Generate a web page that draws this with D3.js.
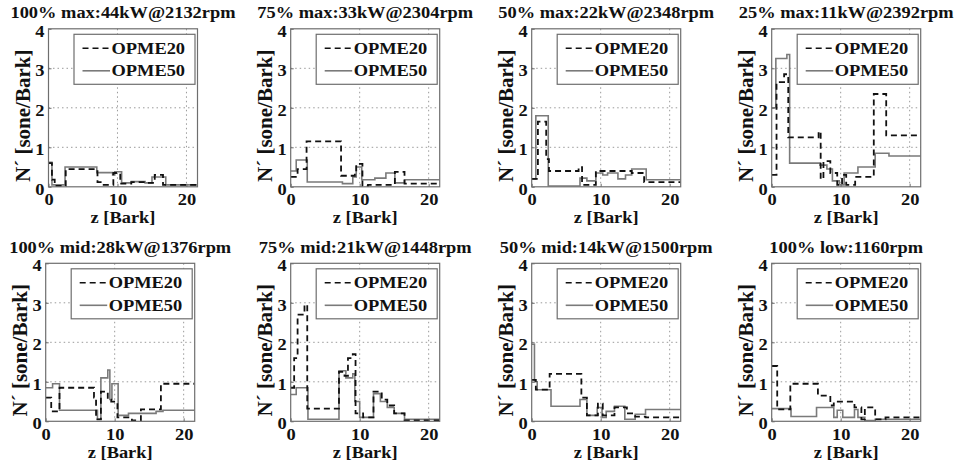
<!DOCTYPE html>
<html><head><meta charset="utf-8">
<script src="https://cdn.jsdelivr.net/npm/d3@7"></script>
<style>
html,body{margin:0;padding:0;background:#fff;}
text{font-family:"Liberation Serif","Times New Roman",serif;font-weight:bold;fill:#111;}
</style></head>
<body><svg id="c" width="962" height="468"></svg>
<script>
const titles = ["100% max:44kW@2132rpm","75% max:33kW@2304rpm","50% max:22kW@2348rpm","25% max:11kW@2392rpm",
                "100% mid:28kW@1376rpm","75% mid:21kW@1448rpm","50% mid:14kW@1500rpm","100% low:1160rpm"];
const seriesNames = ["OPME20","OPME50"];
const xTicks = [0,10,20];
const yTicks = [0,1,2,3,4];
const xMax = 21.6, yMax = 4;

// step data: [z (Bark), N' (sone/Bark)] per panel
const opme20 = [
 [[0,0.6],[0.5,0.18],[0.9,0.02],[2.5,0.45],[7.1,0.12],[8,0.05],[9.4,0.35],[10.4,0.08],[12,0.12],[14,0.1],[15.4,0.3],[16.6,0.05],[21.6,0.05]],
 [[0,0.25],[1.0,0.45],[2.3,1.15],[7.3,0.28],[9.3,0.35],[9.5,0.58],[10.4,0.02],[11.2,0.05],[15.1,0.38],[16.5,0.08],[21.6,0.08]],
 [[0,0.2],[0.9,1.65],[2.1,0.7],[2.5,0.4],[6.8,0.5],[7.3,0.05],[9.3,0.4],[14.5,0.35],[16.3,0.12],[21.6,0.12]],
 [[0,0.3],[0.7,2.65],[1.8,2.85],[2.4,1.25],[6.8,1.4],[7.1,0.2],[7.5,0.65],[8.5,0.35],[9.5,0.05],[10.2,0.3],[10.8,0.05],[12.1,0.25],[14.8,2.35],[16.6,1.3],[21.6,1.3]],
 [[0,0.6],[0.8,0.25],[2.0,0.85],[7.0,0.6],[7.3,0.05],[8.0,0.75],[9.0,0.55],[9.5,0.5],[10.4,0.1],[12.5,0.02],[13.8,0.3],[16.7,0.95],[21.6,0.95]],
 [[0,0.85],[0.5,1.6],[1.0,2.7],[2.0,2.95],[2.4,0.32],[7.0,1.25],[7.8,1.15],[8.3,1.6],[9.0,1.7],[9.4,0.2],[10.5,0.1],[12.0,0.75],[13.2,0.55],[14.0,0.4],[15.0,0.2],[16.5,0.02],[21.6,0.02]],
 [[0,1.05],[0.6,0.8],[2.6,1.2],[7.2,0.6],[8.0,0.15],[9.6,0.45],[10.3,0.15],[12.0,0.35],[13.8,0.2],[15.0,0.12],[16.5,0.1],[21.6,0.1]],
 [[0,1.4],[0.8,0.3],[2.7,0.95],[6.7,0.65],[8.5,0.4],[9.0,0.5],[12.0,0.35],[13.0,0.05],[13.5,0.35],[15.0,0.05],[16.5,0.1],[21.6,0.1]]
];
const opme50 = [
 [[0,0.62],[0.5,0.05],[2.4,0.5],[7.0,0.36],[9.3,0.3],[9.6,0.38],[10.6,0.1],[12,0.13],[14,0.1],[15,0.25],[17,0.05],[21.6,0.05]],
 [[0,0.4],[0.8,0.68],[2.4,0.12],[7.5,0.08],[9.0,0.25],[9.5,0.5],[10.3,0.18],[12.2,0.22],[13.8,0.35],[15.1,0.1],[16.5,0.18],[21.6,0.18]],
 [[0,0.2],[0.6,1.8],[2.4,0.02],[7.0,0.22],[8.0,0.15],[9.3,0.35],[10.3,0.3],[11.0,0.35],[12.5,0.2],[13.6,0.3],[14.5,0.45],[16.6,0.18],[21.6,0.18]],
 [[0,2.0],[0.6,3.25],[2.2,3.35],[2.6,0.6],[7.0,0.55],[8.0,0.45],[8.8,0.15],[9.8,0.05],[10.5,0.35],[12.5,0.5],[15.0,0.85],[17.0,0.78],[21.6,0.78]],
 [[0,0.85],[1.0,0.95],[2.0,0.28],[7.5,0.05],[8.0,1.1],[9.0,1.3],[9.3,0.55],[9.6,0.95],[10.5,0.15],[12.0,0.2],[16.0,0.25],[17.0,0.28],[21.6,0.28]],
 [[0,0.68],[0.8,0.85],[2.5,0.05],[7.0,1.28],[8.0,1.1],[9.0,1.2],[9.3,0.5],[10.0,0.1],[12.0,0.7],[13.0,0.5],[14.0,0.35],[15.0,0.2],[16.5,0.05],[21.6,0.05]],
 [[0,1.95],[0.4,1.0],[0.8,0.8],[2.8,0.38],[7.0,0.55],[8.0,0.15],[9.5,0.35],[10.2,0.1],[10.8,0.25],[12.0,0.38],[13.5,0.05],[15.0,0.18],[16.5,0.3],[21.6,0.3]],
 [[0,0.32],[2.8,0.12],[6.5,0.35],[9.0,0.1],[9.5,0.28],[10.3,0.1],[12.0,0.3],[12.5,0.1],[13.5,0.02],[15.0,0.05],[21.6,0.05]]
];
const seriesColors = ["#111","#7a7a7a"];

const svg = d3.select("#c");
const lefts = [[48.5,290.7,531.7,771.7],[45.7,290.7,531.7,771.7]];
const tops = [28.8,263.3];
const pw = 149, ph = 158;
const sx = 1.15;

titles.forEach((t,i)=>{
  const r = Math.floor(i/4), c = i%4;
  const L = lefts[r][c], T = tops[r];
  const g = svg.append("g").attr("transform",`translate(${L},${T})`);
  const x = d3.scaleLinear().domain([0,xMax]).range([0,pw]);
  const y = d3.scaleLinear().domain([0,yMax]).range([ph,0]);
  const cid = "clip"+i;
  g.append("clipPath").attr("id",cid).append("rect").attr("width",pw).attr("height",ph);
  // grid
  g.selectAll(".gx").data(xTicks.filter(d=>d>0)).join("line")
    .attr("x1",d=>x(d)).attr("x2",d=>x(d)).attr("y1",0).attr("y2",ph)
    .attr("stroke","#9a9a9a").attr("stroke-width",1).attr("stroke-dasharray","1.5,3");
  g.selectAll(".gy").data(yTicks.filter(d=>d>0&&d<yMax)).join("line")
    .attr("y1",d=>y(d)).attr("y2",d=>y(d)).attr("x1",0).attr("x2",pw)
    .attr("stroke","#9a9a9a").attr("stroke-width",1).attr("stroke-dasharray","1.5,3");
  // lines
  const line = d3.line().x(d=>x(d[0])).y(d=>y(d[1])).curve(d3.curveStepAfter);
  const dg = g.append("g").attr("clip-path",`url(#${cid})`);
  dg.append("path").datum(opme50[i]).attr("d",line).attr("fill","none")
    .attr("stroke",seriesColors[1]).attr("stroke-width",1.6);
  dg.append("path").datum(opme20[i]).attr("d",line).attr("fill","none")
    .attr("stroke",seriesColors[0]).attr("stroke-width",1.8).attr("stroke-dasharray","6,4");
  // box
  g.append("rect").attr("width",pw).attr("height",ph).attr("fill","none")
    .attr("stroke","#6e6e6e").attr("stroke-width",1.2);
  // axes ticks (inward) & labels
  const xa = d3.axisBottom(x).tickValues(xTicks).tickSize(-3).tickPadding(5).tickFormat(d3.format("d"));
  const ya = d3.axisLeft(y).tickValues(yTicks).tickSize(-3).tickPadding(6).tickFormat(d3.format("d"));
  const gx = g.append("g").attr("transform",`translate(0,${ph})`).call(xa);
  const gy = g.append("g").call(ya);
  [gx,gy].forEach(a=>{
    a.select(".domain").remove();
    a.selectAll("line").attr("stroke","#6e6e6e");
    a.selectAll("text").style("font-family","'Liberation Serif','Times New Roman',serif")
      .style("font-weight","bold").style("font-size","16px").attr("fill","#111");
  });
  gx.selectAll(".tick text").attr("y",0).attr("dy",0)
    .attr("transform",`translate(0,18.5) scale(${sx},1)`);
  gy.selectAll(".tick text").attr("x",0).attr("dy","0.47em")
    .attr("transform",`translate(-4,0) scale(${sx},1)`);
  // title
  g.append("text").attr("transform",`translate(${pw/2},-10.5) scale(${sx},1)`)
    .attr("text-anchor","middle").style("font-size","16px").text(t);
  // x label
  g.append("text").attr("transform",`translate(${pw/2},${ph+36.5}) scale(${sx},1)`)
    .attr("text-anchor","middle").style("font-size","16px").text("z [Bark]");
  // y label
  g.append("text").attr("transform",`translate(-19,${ph/2+8}) rotate(-90)`)
    .attr("text-anchor","middle").style("font-size","21px").text("N´ [sone/Bark]");
  // legend
  const lg = g.append("g").attr("transform","translate(25.5,5.5)");
  lg.append("rect").attr("width",pw-28).attr("height",50).attr("fill","#fff")
    .attr("stroke","#6e6e6e").attr("stroke-width",1.2);
  seriesNames.forEach((n,k)=>{
    const yy = 14 + k*22.5;
    lg.append("line").attr("x1",8.5).attr("x2",36).attr("y1",yy).attr("y2",yy)
      .attr("stroke",seriesColors[k]).attr("stroke-width",1.6)
      .attr("stroke-dasharray",k===0?"6,4":null);
    lg.append("text").attr("transform",`translate(37.5,${yy+5.5}) scale(${sx},1)`)
      .style("font-size","16px").text(n);
  });
});
</script></body></html>
